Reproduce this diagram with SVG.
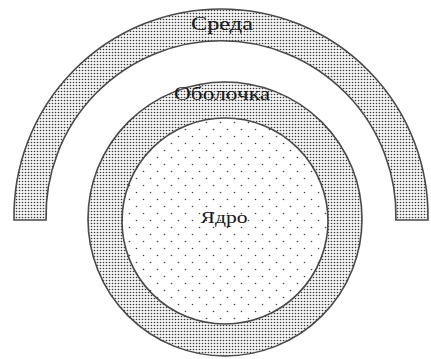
<svg xmlns="http://www.w3.org/2000/svg" width="431" height="359" viewBox="0 0 431 359">
  <style>
    .band { fill: url(#dense); stroke: #4a4a4a; stroke-width: 1.6; }
    .core { fill: url(#sparse); stroke: #4a4a4a; stroke-width: 1.6; }
    .lbl { font-family: "Liberation Serif", "DejaVu Serif", serif; fill: #1a1a1a; text-anchor: middle; }
  </style>
  <defs>
    <pattern id="dense" width="3" height="3" patternUnits="userSpaceOnUse">
      <rect width="3" height="3" fill="#f6f6f6"/>
      <circle cx="1.5" cy="1.5" r="0.8" fill="#3a3a3a"/>
    </pattern>
    <pattern id="sparse" width="14" height="14" patternUnits="userSpaceOnUse">
      <rect width="14" height="14" fill="#ffffff"/>
      <circle cx="3.5" cy="3.5" r="0.8" fill="#444"/>
      <circle cx="10.5" cy="10.5" r="0.8" fill="#444"/>
    </pattern>
  </defs>
  <rect width="431" height="359" fill="#ffffff"/>
  <g id="sreda">
    <path class="band" d="M 14.04,220 A 207 207 0 1 1 427.96,220 L 395.95,220 A 175 175 0 1 0 46.05,220 Z"/>
    <text class="lbl" x="222" y="30" font-size="19" textLength="62" lengthAdjust="spacingAndGlyphs">Среда</text>
  </g>
  <g id="obolochka">
    <circle class="band" cx="225" cy="219" r="137"/>
    <text class="lbl" x="222" y="100" font-size="18" textLength="96" lengthAdjust="spacingAndGlyphs">Оболочка</text>
  </g>
  <g id="yadro">
    <circle class="core" cx="225" cy="221" r="103"/>
    <text class="lbl" x="224" y="223" font-size="16" textLength="47" lengthAdjust="spacingAndGlyphs">Ядро</text>
  </g>
</svg>
